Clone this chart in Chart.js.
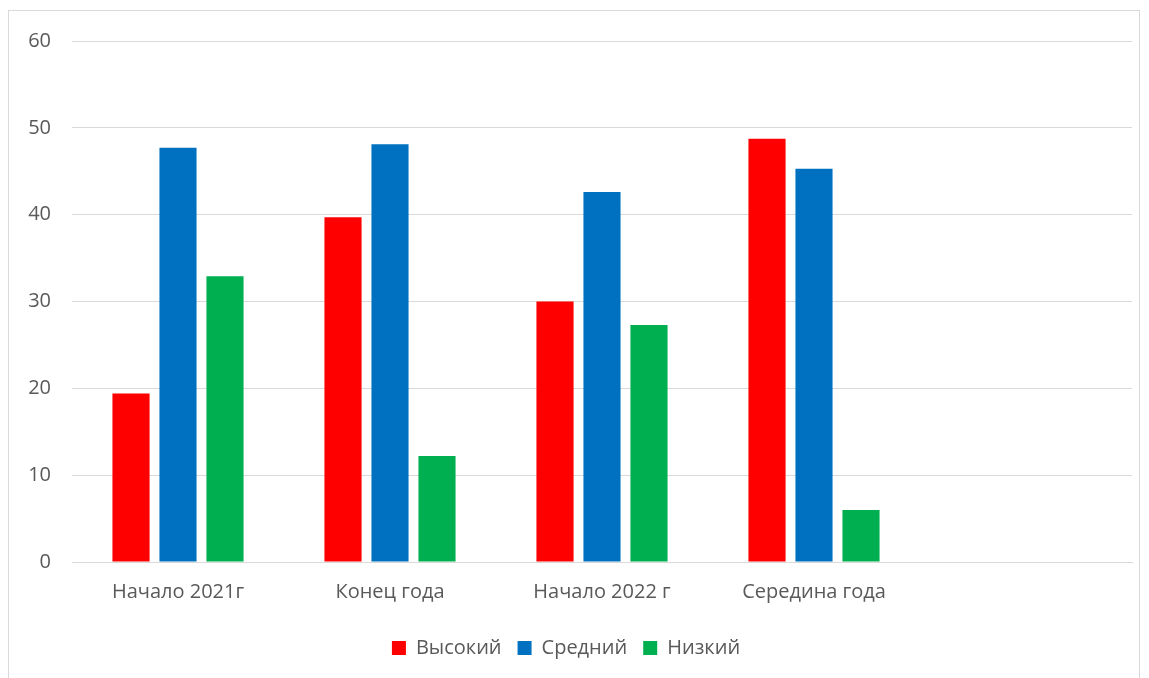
<!DOCTYPE html>
<html>
<head>
<meta charset="utf-8">
<script src="https://cdn.jsdelivr.net/npm/chart.js@4/dist/chart.umd.min.js"></script>
<style>
html,body{margin:0;padding:0;background:#fff}
#wrap{position:absolute;left:0;top:0;width:1149px;height:678px}
#frame{position:absolute;left:8px;top:10px;width:1132px;height:680px;border:1px solid #d9d9d9;box-sizing:border-box}
</style>
</head>
<body>
<div id="frame"></div>
<div id="wrap"><canvas id="chart" width="1149" height="678"></canvas></div>
<script>
// catégories (la 5e est vide)
const categories = ["Начало 2021г","Конец года","Начало 2022 г","Середина года",""]

const vysokiy = [19.4, 39.7, 30.0, 48.75]
const sredniy = [47.7, 48.1, 42.6, 45.3]
const nizkiy = [32.9, 12.2, 27.3, 6.0]

const yTicks = [0,10,20,30,40,50,60]

const fontFam = "'Open Sans', 'Noto Sans', sans-serif"
const grey = "#595959"

const ctx = document.getElementById("chart")

new Chart(ctx,{
type:"bar",
data:{
labels:categories,
datasets:[
{label:"Высокий",data:vysokiy,backgroundColor:"#ff0000"},
{label:"Средний",data:sredniy,backgroundColor:"#0070c0"},
{label:"Низкий",data:nizkiy,backgroundColor:"#00b050"}
]
},
options:{
responsive:false,
animation:false,
layout:{padding:{left:0,right:17,top:41,bottom:10}},
datasets:{bar:{categoryPercentage:0.665,barPercentage:0.79}},
plugins:{
tooltip:{enabled:false},
legend:{
position:"bottom",
labels:{boxWidth:14,boxHeight:14,color:grey,font:{family:fontFam,size:20},padding:16}
}
},
scales:{
x:{
grid:{display:false},
border:{display:true,color:"#d9d9d9",width:1},
ticks:{color:grey,font:{family:fontFam,size:20},padding:10,maxRotation:0},
afterFit:s=>{s.height=60}
},
y:{
min:0,max:60,
afterBuildTicks:s=>{s.ticks=yTicks.map(v=>({value:v}))},
grid:{color:"#d9d9d9",lineWidth:1,drawTicks:false},
border:{display:false},
ticks:{color:grey,font:{family:fontFam,size:20},padding:21},
afterFit:s=>{s.width=72}
}
}
}
})
</script>
</body>
</html>
